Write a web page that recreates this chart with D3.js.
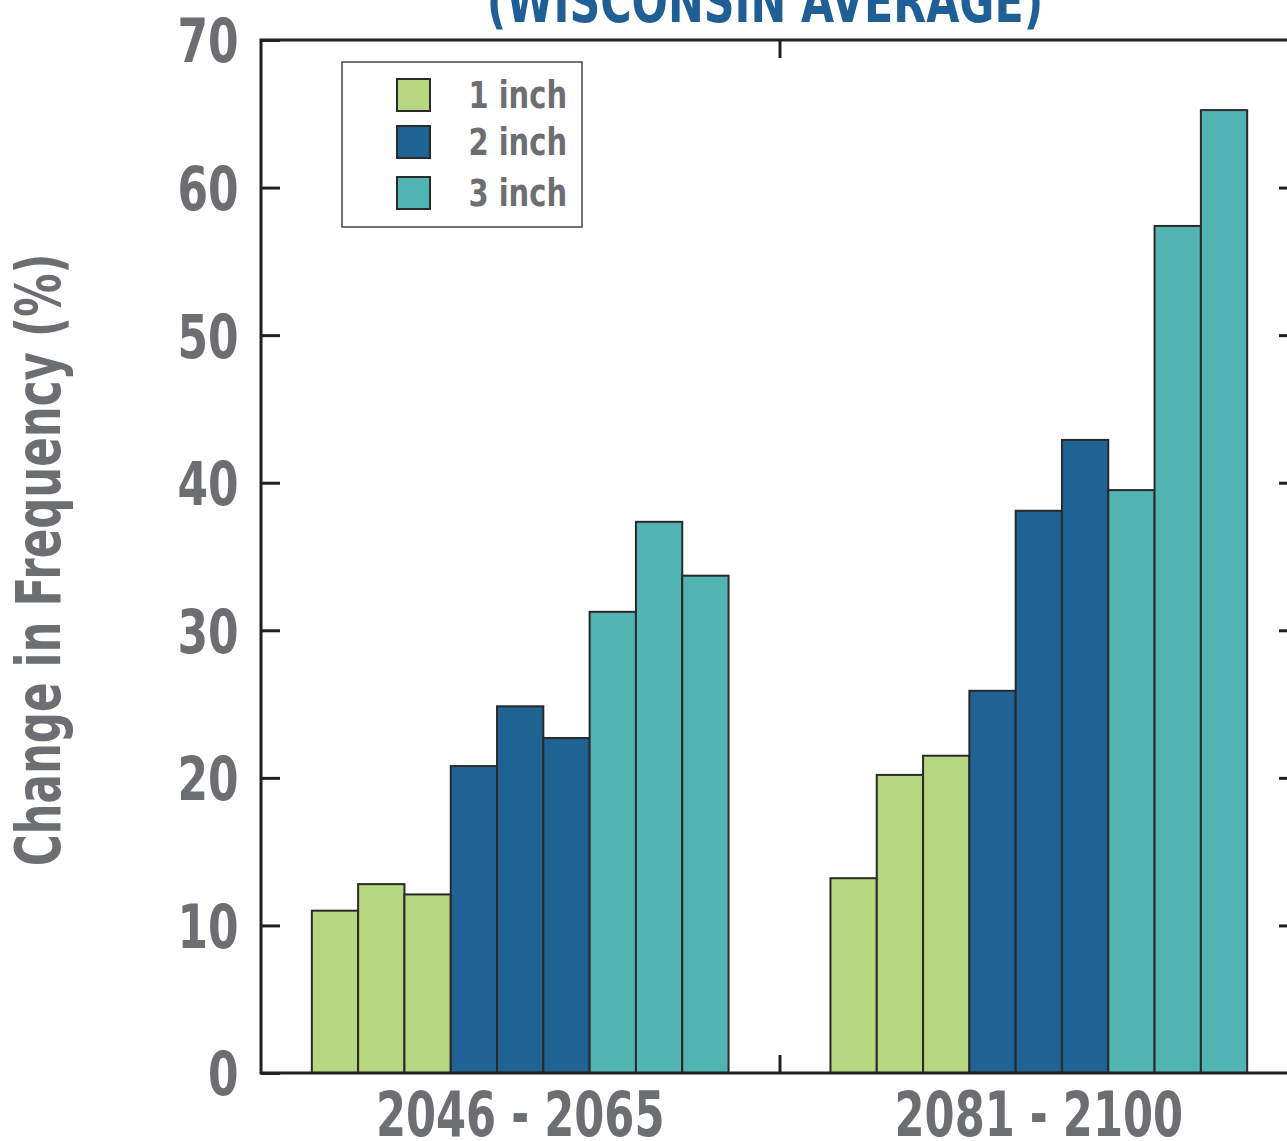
<!DOCTYPE html>
<html lang="en">
<head>
<meta charset="UTF-8">
<title>Change in Frequency</title>
<script src="https://cdn.jsdelivr.net/npm/d3@7/dist/d3.min.js"></script>
<style>
	body { margin: 0; background: #fff; }
	svg text {
		font-family: "DejaVu Sans Condensed", "Liberation Sans Narrow", sans-serif;
		font-weight: bold;
		fill: #6d6e71;
	}
	.domain { display: none; }
</style>
</head>
<body>
<div id="chart"></div>
<script>
	// data
	var groups = ['2046 - 2065', '2081 - 2100'];
	var sizes = ['1 inch', '2 inch', '3 inch'];
	var oneInch = [[11.0, 12.8, 12.1], [13.2, 20.2, 21.5]];
	var twoInch = [[20.8, 24.85, 22.7], [25.9, 38.1, 42.9]];
	var threeInch = [[31.25, 37.35, 33.7], [39.5, 57.4, 65.25]];
	var yTicks = [0, 10, 20, 30, 40, 50, 60, 70];
	var colors = ['#b6d77f', '#1f6294', '#52b4b2'];
	var titleText = '(WISCONSIN AVERAGE)';
	var yLabel = 'Change in Frequency (%)';

	var width = 1287, height = 1141;
	var plot = {left: 261, right: 1298, top: 40, bottom: 1073};

	var svg = d3.select('#chart').append('svg')
		.attr('width', width)
		.attr('height', height);

	var series = [oneInch, twoInch, threeInch];
	var bars = [];
	groups.forEach(function (g, gi) {
		series.forEach(function (s, si) {
			s[gi].forEach(function (v, k) {
				bars.push({group: g, size: si, idx: si * 3 + k, value: v});
			});
		});
	});

	var x0 = d3.scaleBand()
		.domain(groups)
		.range([plot.left, plot.right])
		.paddingInner(0.1965)
		.paddingOuter(0.098);

	var x1 = d3.scaleBand()
		.domain(d3.range(9))
		.range([0, x0.bandwidth()]);

	var y = d3.scaleLinear()
		.domain([0, 70])
		.range([plot.bottom, plot.top]);

	var xMid = d3.scaleLinear().domain([0, 1]).range([plot.left, plot.right]);

	// title (mostly cropped at the top)
	svg.append('text')
		.attr('transform', 'translate(765,22) scale(0.82,1)')
		.attr('text-anchor', 'middle')
		.style('font-size', '58px')
		.style('fill', '#1f5f96')
		.text(titleText);

	// bars
	svg.selectAll('.bar')
		.data(bars)
		.enter().append('rect')
		.attr('class', 'bar')
		.attr('x', function (d) { return x0(d.group) + x1(d.idx); })
		.attr('width', x1.bandwidth())
		.attr('y', function (d) { return y(d.value); })
		.attr('height', function (d) { return y(0) - y(d.value); })
		.style('fill', function (d) { return colors[d.size]; })
		.style('stroke', '#2a2a2a')
		.style('stroke-width', 2);

	// frame
	svg.append('rect')
		.attr('x', plot.left)
		.attr('y', plot.top)
		.attr('width', plot.right - plot.left)
		.attr('height', plot.bottom - plot.top)
		.style('fill', 'none')
		.style('stroke', '#231f20')
		.style('stroke-width', 3);

	var gy = svg.append('g')
		.attr('transform', 'translate(' + plot.left + ',0)')
		.call(d3.axisLeft(y).tickValues(yTicks).tickSize(-19).tickPadding(28));
	gy.selectAll('line').style('stroke', '#231f20').style('stroke-width', 3);
	gy.selectAll('text')
		.style('font-size', '61px')
		.attr('dy', '0.36em')
		.attr('transform', 'scale(0.8,1)');

	var gr = svg.append('g')
		.attr('transform', 'translate(' + plot.right + ',0)')
		.call(d3.axisRight(y).tickValues(yTicks.slice(1, -1)).tickSize(-19).tickFormat(''));
	gr.selectAll('line').style('stroke', '#231f20').style('stroke-width', 3);

	var gt = svg.append('g')
		.attr('transform', 'translate(0,' + plot.top + ')')
		.call(d3.axisTop(xMid).tickValues([0.5]).tickSize(-18).tickFormat(''));
	gt.selectAll('line').style('stroke', '#231f20').style('stroke-width', 3);

	var gb = svg.append('g')
		.attr('transform', 'translate(0,' + plot.bottom + ')')
		.call(d3.axisBottom(xMid).tickValues([0.5]).tickSize(-18).tickFormat(''));
	gb.selectAll('line').style('stroke', '#231f20').style('stroke-width', 3);

	// group labels
	svg.selectAll('.glabel')
		.data(groups)
		.enter().append('text')
		.attr('class', 'glabel')
		.attr('text-anchor', 'middle')
		.attr('transform', function (d) {
			return 'translate(' + (x0(d) + x0.bandwidth() / 2) + ',1136) scale(0.775,1)';
		})
		.style('font-size', '62px')
		.text(function (d) { return d; });

	// y label
	svg.append('text')
		.attr('transform', 'translate(60,560) rotate(-90) scale(0.78,1)')
		.attr('text-anchor', 'middle')
		.style('font-size', '62px')
		.text(yLabel);

	// legend
	var legend = svg.append('g');
	legend.append('rect')
		.attr('x', 342).attr('y', 62)
		.attr('width', 240).attr('height', 165)
		.style('fill', '#fff')
		.style('stroke', '#444')
		.style('stroke-width', 1.5);

	var legendY = [79, 126, 177];
	sizes.forEach(function (s, i) {
		legend.append('rect')
			.attr('x', 397).attr('y', legendY[i])
			.attr('width', 33).attr('height', 32)
			.style('fill', colors[i])
			.style('stroke', '#2a2a2a')
			.style('stroke-width', 2);
		legend.append('text')
			.attr('text-anchor', 'end')
			.attr('transform', 'translate(567,' + (legendY[i] + 29) + ') scale(0.87,1)')
			.style('font-size', '37px')
			.text(s);
	});
</script>
</body>
</html>
